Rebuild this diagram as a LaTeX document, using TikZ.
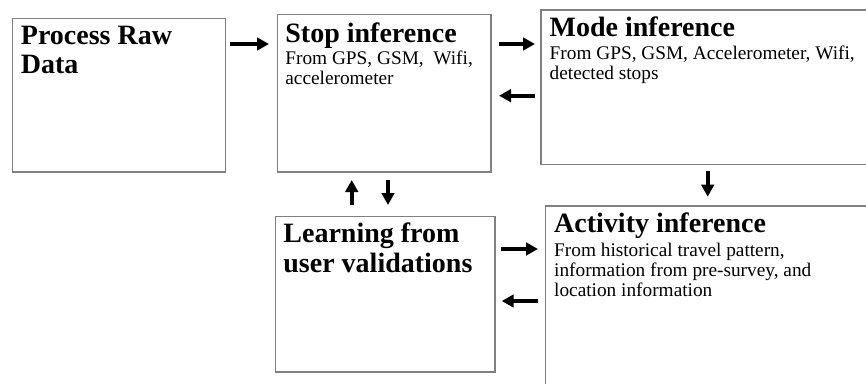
\documentclass[tikz,border=0pt]{standalone}
\usepackage{fontspec}
\setmainfont{Liberation Serif}
\usetikzlibrary{positioning,arrows.meta}

\tikzset{
  box/.style={draw=black!50, line width=1.3pt, anchor=north west, inner sep=0pt, outer sep=0pt},
  ttl/.style={font=\bfseries\fontsize{28}{29.5}\selectfont, align=left, inner sep=0pt},
  txt/.style={font=\fontsize{19.3}{20}\selectfont, align=left, inner sep=0pt},
  arr/.style={line width=4pt, -{Triangle[length=12pt,width=12.5pt]}}
}

\begin{document}
\begin{tikzpicture}[x=1pt,y=-1pt]
	\useasboundingbox (0,0) rectangle (866,383);
	\clip (0,0) rectangle (866,383);

	% boxes
	\node[box, minimum width=213pt, minimum height=153.7pt] (raw) at (12.7,18.3) {};
	\node[box, minimum width=213.3pt, minimum height=157.7pt] (stop) at (277.7,14.3) {};
	\node[box, minimum width=360pt, minimum height=154.7pt] (mode) at (541,10) {};
	\node[box, minimum width=219.3pt, minimum height=155.3pt] (learn) at (275.7,216.7) {};
	\node[box, minimum width=360pt, minimum height=220pt] (act) at (545.5,206) {};

	% texts
	\node[ttl, below right=7.5pt and 8pt of raw.north west] (rawttl) {Process Raw\\Data};
	\node[ttl, below right=8pt and 7.5pt of stop.north west] (stopttl) {Stop inference};
	\node[txt, below right=36pt and 7.5pt of stop.north west] (stoptxt) {From GPS, GSM,~ Wifi,\\accelerometer};
	\node[ttl, below right=7pt and 8.5pt of mode.north west] (modettl) {Mode inference};
	\node[txt, below right=36pt and 8.5pt of mode.north west] (modetxt) {From GPS, GSM, Accelerometer, Wifi,\\detected stops};
	\node[ttl, below right=6pt and 7.5pt of learn.north west] (learnttl) {Learning from\\user validations};
	\node[ttl, below right=7pt and 8.5pt of act.north west] (actttl) {Activity inference};
	\node[txt, below right=37pt and 8.5pt of act.north west] (acttxt) {From historical travel pattern,\\information from pre-survey, and\\location information};

	% arrows
	\draw[arr, shorten <=4.3pt, shorten >=8.7pt] (raw.east |- 0,44) -- (stop.west |- 0,44);
	\draw[arr, shorten <=8pt, shorten >=6pt] (stop.east |- 0,44) -- (mode.west |- 0,44);
	\draw[arr, shorten <=6pt, shorten >=8pt] (mode.west |- 0,95.7) -- (stop.east |- 0,95.7);
	\draw[arr, shorten <=11.7pt, shorten >=8pt] (learn.north -| 351.7,0) -- (stop.south -| 351.7,0);
	\draw[arr, shorten <=8pt, shorten >=11.7pt] (stop.south -| 388,0) -- (learn.north -| 388,0);
	\draw[arr, shorten <=6pt, shorten >=9.3pt] (mode.south -| 707.7,0) -- (act.north -| 707.7,0);
	\draw[arr, shorten <=5.7pt, shorten >=7.5pt] (learn.east |- 0,249) -- (act.west |- 0,249);
	\draw[arr, shorten <=7.5pt, shorten >=6.7pt] (act.west |- 0,301) -- (learn.east |- 0,301);
\end{tikzpicture}
\end{document}
